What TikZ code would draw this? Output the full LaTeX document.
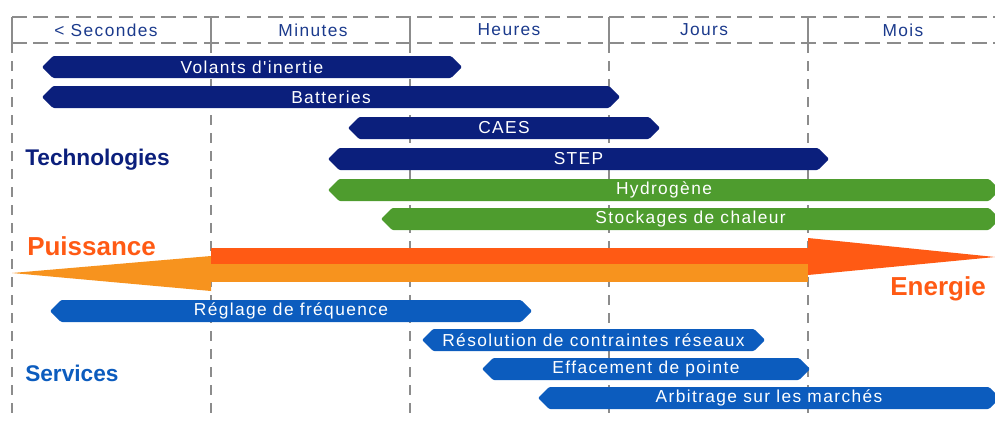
\documentclass[tikz,border=0pt]{standalone}
\usepackage{fontspec}
\setmainfont{Liberation Sans}
\newfontfamily\spacedfont{Liberation Sans}[LetterSpace=8]
\definecolor{techno}{HTML}{0B1F7C}
\definecolor{techgreen}{HTML}{4E9C2E}
\definecolor{service}{HTML}{0C5CBE}
\definecolor{header}{HTML}{1B3A8C}
\definecolor{power}{HTML}{F7931E}
\definecolor{energy}{HTML}{FF5A14}
\definecolor{gridgray}{HTML}{8C8C8C}

\begin{document}
\begin{tikzpicture}[x=0.75pt, y=-0.75pt,
    gridline/.style={gridgray, line width=1pt},
    bartext/.style={text=white, inner sep=0pt, font=\spacedfont\fontsize{13}{15}\selectfont},
    headtext/.style={text=header, inner sep=0pt, font=\spacedfont\fontsize{13}{15}\selectfont},
    grouptext/.style={anchor=west, inner sep=0pt, font=\bfseries\fontsize{17}{19}\selectfont},
    axistext/.style={text=energy, inner sep=0pt, font=\bfseries\fontsize{19.5}{21}\selectfont}]
  \useasboundingbox (0,0) rectangle (995,421);

  % time scale grid
  \draw[gridline, dash pattern=on 11pt off 5pt] (12,17) -- (995,17);
  \draw[gridline, dash pattern=on 11pt off 5pt] (12,43) -- (995,43);
  \foreach \x in {12,211,410,609,808} {
    \draw[gridline] (\x,17) -- (\x,43);
    \draw[gridline, dash pattern=on 7.5pt off 6pt] (\x,43) -- (\x,421);
  }
  \foreach \nm/\xc/\lab in {sec/106/{< Secondes}, min/313/Minutes, hr/509/Heures, day/704/Jours, month/903/Mois}
    \node[headtext] (\nm) at (\xc,30) {\lab};

  % technology and service ranges
  \foreach \nm/\xa/\xb/\yc/\col/\lab in {
      volants/42/462/67/techno/{Volants d'inertie},
      batt/42/620/97/techno/Batteries,
      caes/348/660/128/techno/CAES,
      step/328/829/159/techno/STEP,
      hydro/328/1000/190/techgreen/Hydrogène,
      heat/381/1000/219/techgreen/{Stockages de chaleur},
      freq/50/532/311/service/{Réglage de fréquence},
      constr/422/765/340/service/{Résolution de contraintes réseaux},
      peak/482/810/369/service/{Effacement de pointe},
      market/538/1000/398/service/{Arbitrage sur les marchés}} {
    \fill[\col, rounded corners=1pt] (\xa,\yc) -- (\xa+11,\yc-11) -- (\xb-11,\yc-11)
      -- (\xb,\yc) -- (\xb-11,\yc+11) -- (\xa+11,\yc+11) -- cycle;
    \node[bartext] (\nm) at ({(\xa+\xb)/2},\yc) {\lab};
  }

  \node[grouptext, text=techno] (tech) at (25,160) {Technologies};
  \node[grouptext, text=service] (serv) at (25,373) {Services};

  % power / energy double arrow
  \fill[power] (12,273) -- (211,256) -- (211,291) -- cycle;
  \fill[energy] (211,248) rectangle (808,264);
  \fill[power] (211,264) rectangle (808,282);
  \fill[energy] (808,238) -- (995,257) -- (808,275) -- cycle;
  \node[axistext, anchor=west] (puiss) at (27,246) {Puissance};
  \node[axistext, anchor=east] (energ) at (986,289) {Energie};
\end{tikzpicture}
\end{document}
